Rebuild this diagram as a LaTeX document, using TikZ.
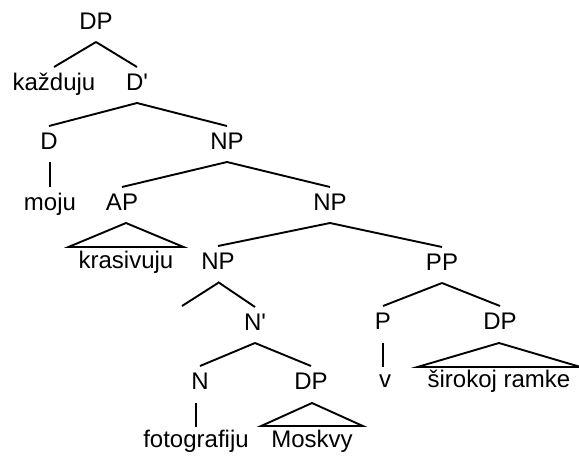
\documentclass[tikz,border=0pt]{standalone}
\usepackage{fontspec}
\setmainfont{Liberation Sans}
\usetikzlibrary{calc}
\begin{document}
\begin{tikzpicture}[x=1pt,y=-1pt,
  lbl/.style={inner sep=0pt, anchor=base, font=\fontsize{24}{28}\selectfont},
  edge/.style={line width=1.9pt}]
\fill[white] (0,0) rectangle (579,456);
\useasboundingbox (0,0) rectangle (579,456);
% nodes
\node[lbl] (DP0) at (96,29) {DP};
\node[lbl] (kaz) at (54,90) {každuju};
\node[lbl] (Dbar) at (137,90) {D\textquotesingle};
\node[lbl] (D) at (49,149) {D};
\node[lbl] (NP1) at (227,149) {NP};
\node[lbl] (moju) at (50,210) {moju};
\node[lbl] (AP) at (122,210) {AP};
\node[lbl] (NP2) at (330,210) {NP};
\node[lbl] (kras) at (126,268) {krasivuju};
\node[lbl] (NP3) at (218,269) {NP};
\node[lbl] (PP) at (442,270) {PP};
\node[lbl] (Nbar) at (255,330) {N\textquotesingle};
\node[lbl] (P) at (383,329) {P};
\node[lbl] (DP2) at (500,329) {DP};
\node[lbl] (N) at (200,389) {N};
\node[lbl] (DP1) at (311,389) {DP};
\node[lbl] (foto) at (196,447) {fotografiju};
\node[lbl] (mosk) at (312,447) {Moskvy};
\node[lbl] (v) at (385,387) {v};
\node[lbl] (sir) at (499,387) {širokoj ramke};
\coordinate (empty) at (182,306);
% branches
\newcommand\tbranch[2]{\draw[edge] ([yshift=-13pt]#1.base) -- ([yshift=23pt]#2.base);}
\tbranch{DP0}{kaz}
\tbranch{DP0}{Dbar}
\tbranch{Dbar}{D}
\tbranch{Dbar}{NP1}
\tbranch{NP1}{AP}
\tbranch{NP1}{NP2}
\tbranch{NP2}{NP3}
\tbranch{NP2}{PP}
\draw[edge] ([yshift=-14pt]NP3.base) -- (empty);
\tbranch{NP3}{Nbar}
\tbranch{Nbar}{N}
\tbranch{Nbar}{DP1}
\tbranch{PP}{P}
\tbranch{PP}{DP2}
% vertical leaves
\draw[edge] ($(moju.base |- D.base)+(0,13)$) -- ([yshift=23pt]moju.base);
\draw[edge] ($(foto.base |- N.base)+(0,14)$) -- ([yshift=20pt]foto.base);
\draw[edge] ($(P.base)+(0,14)$) -- ($(P.base |- v.base)+(0,-20)$);
% triangles
\draw[edge] ($(kras.base |- AP.base)+(0,13)$) -- ([shift={(-10pt,21pt)}]kras.base west) -- ([shift={(10pt,21pt)}]kras.base east) -- cycle;
\draw[edge] ($(mosk.base |- DP1.base)+(0,14)$) -- ([shift={(-10pt,21pt)}]mosk.base west) -- ([shift={(10pt,21pt)}]mosk.base east) -- cycle;
\draw[edge] ($(sir.base |- DP2.base)+(0,14)$) -- ([shift={(-10pt,20pt)}]sir.base west) -- ([shift={(10pt,20pt)}]sir.base east) -- cycle;
\end{tikzpicture}
\end{document}
